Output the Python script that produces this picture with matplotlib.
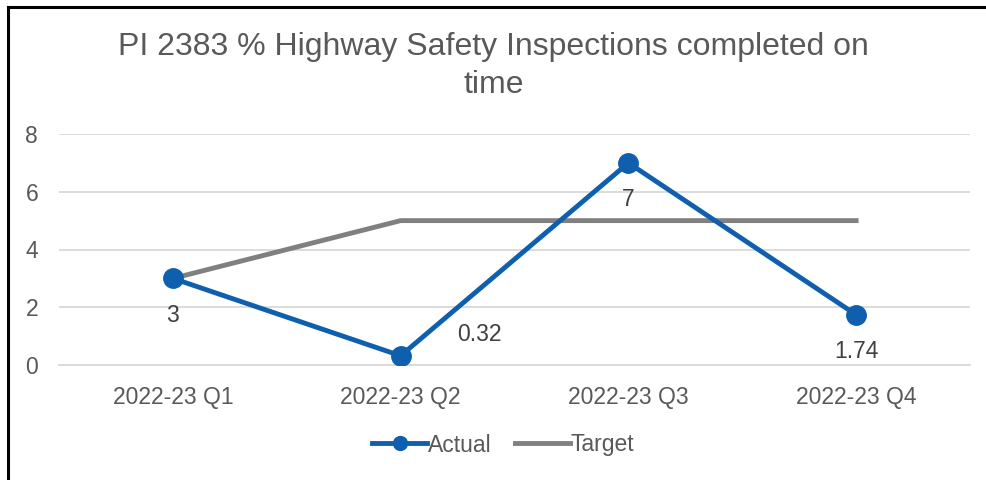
import matplotlib.pyplot as plt
from matplotlib.lines import Line2D

plt.rcParams['font.family'] = ['Liberation Sans', 'DejaVu Sans']

quarters = ["2022-23 Q1", "2022-23 Q2", "2022-23 Q3", "2022-23 Q4"]
actual = [3, 0.32, 7, 1.74]
target = [3, 5, 5, 5]
label_text = ["3", "0.32", "7", "1.74"]

blue = "#0F5FAF"
grey = "#808080"
txt = "#595959"

fig = plt.figure(figsize=(9.87, 4.80), dpi=100)
ax = fig.add_axes([59 / 987, 115 / 480, 911 / 987, 231 / 480])

x = list(range(len(quarters)))
ax.plot(x, actual, color=blue, lw=3.5, marker="o", ms=14, label="Actual", zorder=3)
ax.plot(x, target, color=grey, lw=3.5, label="Target", zorder=2)

# data labels, mostly below the point, Q2 to the right
offsets = [(0, -27), (57, 15), (0, -26.5), (0, -26.5)]
for xi, yi, s, off in zip(x, actual, label_text, offsets):
    ax.annotate(s, (xi, yi), xytext=off, textcoords="offset points",
                ha="center", va="center", fontsize=16.5, color="#404040")

ax.set_xlim(-0.5, 3.5)
ax.set_ylim(0, 8)
ax.set_yticks([0, 2, 4, 6, 8])
ax.set_xticks(x)
ax.set_xticklabels(quarters)
ax.grid(axis="y", color="#D9D9D9", lw=1.3)
ax.set_axisbelow(True)
for sp in ["top", "right", "left"]:
    ax.spines[sp].set_visible(False)
ax.spines["bottom"].set_color("#D9D9D9")
ax.spines["bottom"].set_linewidth(1.3)
ax.tick_params(axis="both", length=0, labelsize=16.5, colors=txt)
ax.tick_params(axis="x", pad=15)
ax.tick_params(axis="y", pad=15)

fig.text(0.5, 1 - 66 / 480, "PI 2383 % Highway Safety Inspections completed on\ntime",
         ha="center", va="center", fontsize=23, color=txt, linespacing=1.32)

leg = fig.legend(loc="center", bbox_to_anchor=(0.51, 1 - 445 / 480), ncol=2, frameon=False,
                 fontsize=16.5, handlelength=2.4, handletextpad=0.05, columnspacing=1.0)
for t in leg.get_texts():
    t.set_color(txt)
for h in leg.legend_handles:
    h.set_markersize(10)

# black frame on the top and left edge
fig.add_artist(Line2D([8 / 987, 1], [1 - 7 / 480, 1 - 7 / 480], color="black", lw=2.2))
fig.add_artist(Line2D([8 / 987, 8 / 987], [0, 1 - 7 / 480], color="black", lw=2.2))

fig.savefig("out.png", dpi=100)
